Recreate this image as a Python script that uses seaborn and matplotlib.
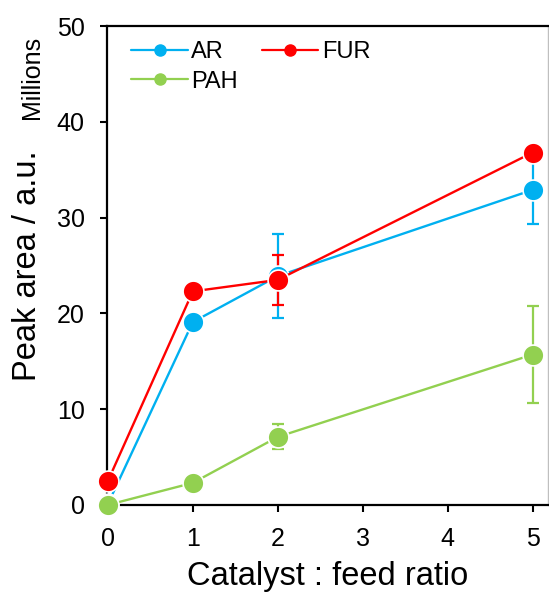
import pandas as pd
import numpy as np
import matplotlib
matplotlib.use('Agg')
import matplotlib.pyplot as plt
from matplotlib.lines import Line2D
import seaborn as sns

# -------------------------
# Data
# -------------------------
ratio = [0, 1, 2, 5]
ar = [0.1, 19.1, 23.9, 32.9]
fur = [2.5, 22.3, 23.5, 36.8]
pah = [0.0, 2.3, 7.1, 15.7]
ar_err = [0.0, 0.0, 4.4, 3.6]
fur_err = [0.0, 0.0, 2.6, 0.6]
pah_err = [0.0, 0.0, 1.3, 5.1]

compounds = ['AR', 'FUR', 'PAH']
colors = {'AR': '#00B0F0', 'FUR': '#FF0000', 'PAH': '#92D050'}

df = pd.DataFrame({
    'ratio': ratio * 3,
    'area': ar + fur + pah,
    'err': ar_err + fur_err + pah_err,
    'compound': [c for c in compounds for _ in ratio],
})

sns.set_style('white')
plt.rcParams['font.family'] = ['Liberation Sans', 'DejaVu Sans']
plt.rcParams['text.color'] = 'black'
plt.rcParams['axes.labelcolor'] = 'black'
plt.rcParams['xtick.color'] = 'black'
plt.rcParams['ytick.color'] = 'black'

fig = plt.figure(figsize=(5.49, 5.94), dpi=100)
ax = fig.add_axes([0.195, 0.15, 0.803, 0.806])

# error bars first, markers drawn over them
for i, c in enumerate(compounds):
    sub = df[df['compound'] == c]
    ax.errorbar(sub['ratio'], sub['area'], yerr=sub['err'], fmt='none',
                ecolor=colors[c], elinewidth=1.6, capsize=4.5, capthick=1.6,
                zorder=2 + i * 0.1, clip_on=False)
    sns.lineplot(data=sub, x='ratio', y='area', color=colors[c],
                 marker='o', markersize=15, markeredgecolor='white',
                 markeredgewidth=1.2, linewidth=1.7, legend=False, ax=ax,
                 clip_on=False, zorder=3 + i * 0.1)

ax.set_xlim(-0.01, 5.18)
ax.set_ylim(0, 50)
ax.set_xticks(range(0, 6))
ax.set_yticks(range(0, 51, 10))
ax.tick_params(axis='both', direction='out', length=5, width=1.5,
               labelsize=18, bottom=True, left=True)
ax.tick_params(axis='y', pad=11)
ax.tick_params(axis='x', pad=11)

for side in ['left', 'bottom', 'top']:
    ax.spines[side].set_color('black')
    ax.spines[side].set_linewidth(1.6)
ax.spines['right'].set_color('#BFBFBF')
ax.spines['right'].set_linewidth(1.0)

ax.set_xlabel('Catalyst : feed ratio', fontsize=23.5, labelpad=7)
ax.set_ylabel('Peak area / a.u.', fontsize=23.5, labelpad=10)
fig.text(0.059, 0.870, 'Millions', rotation=90, fontsize=18,
         ha='center', va='center')

# legend: AR, FUR on top row, PAH below
handles = [Line2D([], [], color=colors[c], marker='o', markersize=8,
                  markeredgecolor=colors[c], linewidth=1.6, label=c)
           for c in ['AR', 'PAH', 'FUR']]
ax.legend(handles=handles, ncol=2, loc='upper left', bbox_to_anchor=(0.02, 1.0),
          frameon=False, fontsize=17, handlelength=2.4, handletextpad=0.15,
          columnspacing=1.0, labelspacing=0.3, borderaxespad=0.25)

fig.savefig('out.png', dpi=100)
